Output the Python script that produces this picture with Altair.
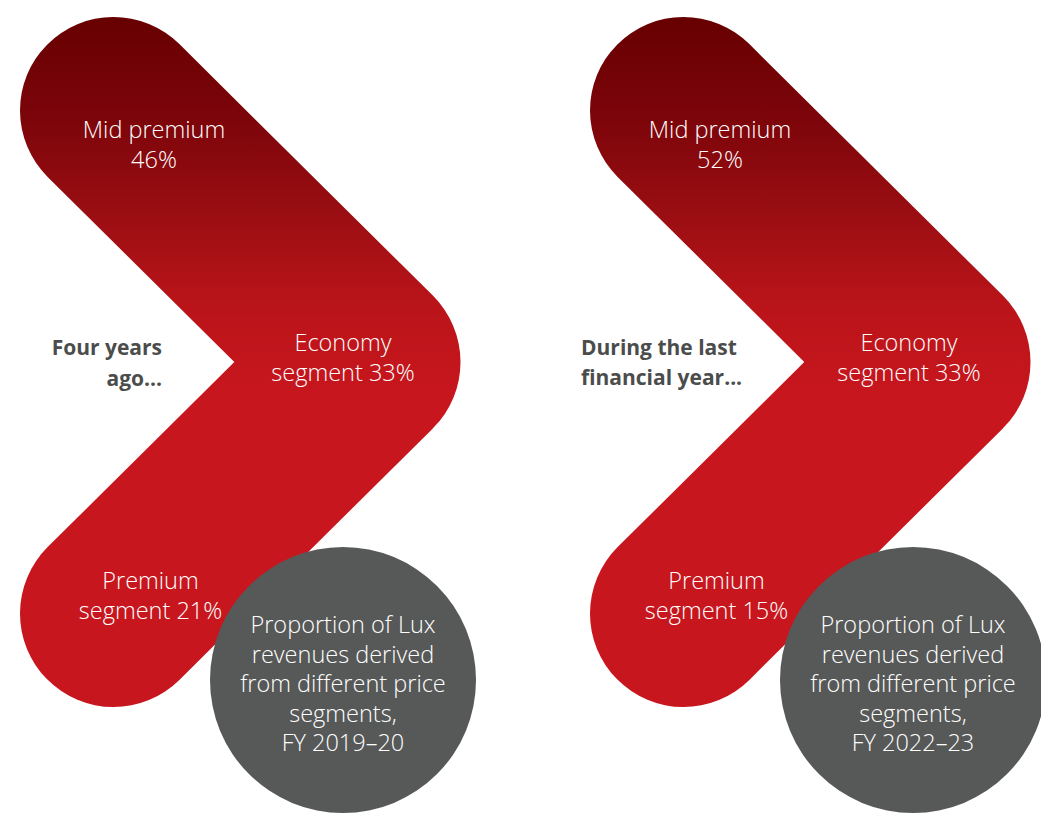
import altair as alt
import pandas as pd

# ---- data ----
periods = ["FY 2019–20", "FY 2022–23"]
intro_text = ["Four years\nago...", "During the last\nfinancial year..."]
mid_premium = [46, 52]
economy = [33, 33]
premium = [21, 15]
circle_caption = "Proportion of Lux\nrevenues derived\nfrom different price\nsegments,\n"

# ---- layout (pixel geometry of the infographic) ----
panel_offset = [0, 570]
chev_x = [113.5, 367, 113.5]
chev_y = [110.5, 362, 613.5]
chev_width = 187
circle_cx, circle_cy, circle_d = 343, 680, 266

RED = "#c8161e"
GREY = "#575958"
DARK = "#4b4d4c"
FONT = "Open Sans"

chev_rows = []
for p, off in zip(periods, panel_offset):
    for i, (x, y) in enumerate(zip(chev_x, chev_y)):
        chev_rows.append({"panel": p, "i": i, "x": x + off, "y": y})
chev_df = pd.DataFrame(chev_rows)

circ_df = pd.DataFrame({
    "panel": periods,
    "x": [circle_cx + o for o in panel_offset],
    "y": [circle_cy] * 2,
})

label_rows = []
for k, (p, off) in enumerate(zip(periods, panel_offset)):
    toff = off - 4 if off else 0
    label_rows += [
        {"t": f"Mid premium\n{mid_premium[k]}%", "x": 154 + toff, "y": 131},
        {"t": f"Economy\nsegment {economy[k]}%", "x": 343 + toff, "y": 344},
        {"t": f"Premium\nsegment {premium[k]}%", "x": 150.5 + toff, "y": 582},
        {"t": circle_caption + p, "x": circle_cx + off, "y": 626},
    ]
label_df = pd.DataFrame(label_rows)

intro_df = pd.DataFrame({
    "t": intro_text,
    "x": [162, 581],
    "y": [349, 349],
    "align": ["right", "left"],
})

xs = alt.Scale(domain=[8, 1041])
ys = alt.Scale(domain=[8, 814], reverse=True)
X = lambda: alt.X("x:Q", scale=xs, axis=None)
Y = lambda: alt.Y("y:Q", scale=ys, axis=None)

gradient = {
    "gradient": "linear", "x1": 0, "y1": -0.186, "x2": 0, "y2": 1,
    "stops": [
        {"offset": 0, "color": "#670000"},
        {"offset": 0.17, "color": "#7c050a"},
        {"offset": 0.33, "color": "#9a0e12"},
        {"offset": 0.48, "color": "#b91419"},
        {"offset": 0.64, "color": RED},
        {"offset": 1, "color": RED},
    ],
}

chevron = alt.Chart(chev_df).mark_line(
    stroke=gradient, strokeWidth=chev_width, strokeCap="round", strokeJoin="round"
).encode(x=X(), y=Y(), detail="panel:N", order="i:Q")

circles = alt.Chart(circ_df).mark_point(
    shape="circle", size=circle_d ** 2, fill=GREY, filled=True, opacity=1, strokeWidth=0
).encode(x=X(), y=Y())

labels = alt.Chart(label_df).mark_text(
    color="white", font=FONT, fontSize=23.5, fontWeight=300,
    lineBreak="\n", lineHeight=29.5, align="center", baseline="middle"
).encode(x=X(), y=Y(), text="t:N")

intro_r = alt.Chart(intro_df[intro_df["align"] == "right"]).mark_text(
    color=DARK, font=FONT, fontSize=21, fontWeight="bold",
    lineBreak="\n", lineHeight=31, align="right", baseline="middle"
).encode(x=X(), y=Y(), text="t:N")
intro_l = alt.Chart(intro_df[intro_df["align"] == "left"]).mark_text(
    color=DARK, font=FONT, fontSize=21, fontWeight="bold",
    lineBreak="\n", lineHeight=30, align="left", baseline="middle"
).encode(x=X(), y=Y(), text="t:N")

chart = alt.layer(chevron, circles, labels, intro_r, intro_l).properties(
    width=1033, height=806, padding=0, autosize=alt.AutoSizeParams(type="none")
).configure_view(stroke=None)

chart.save("out.html", embed_options={"renderer": "svg", "actions": False})
